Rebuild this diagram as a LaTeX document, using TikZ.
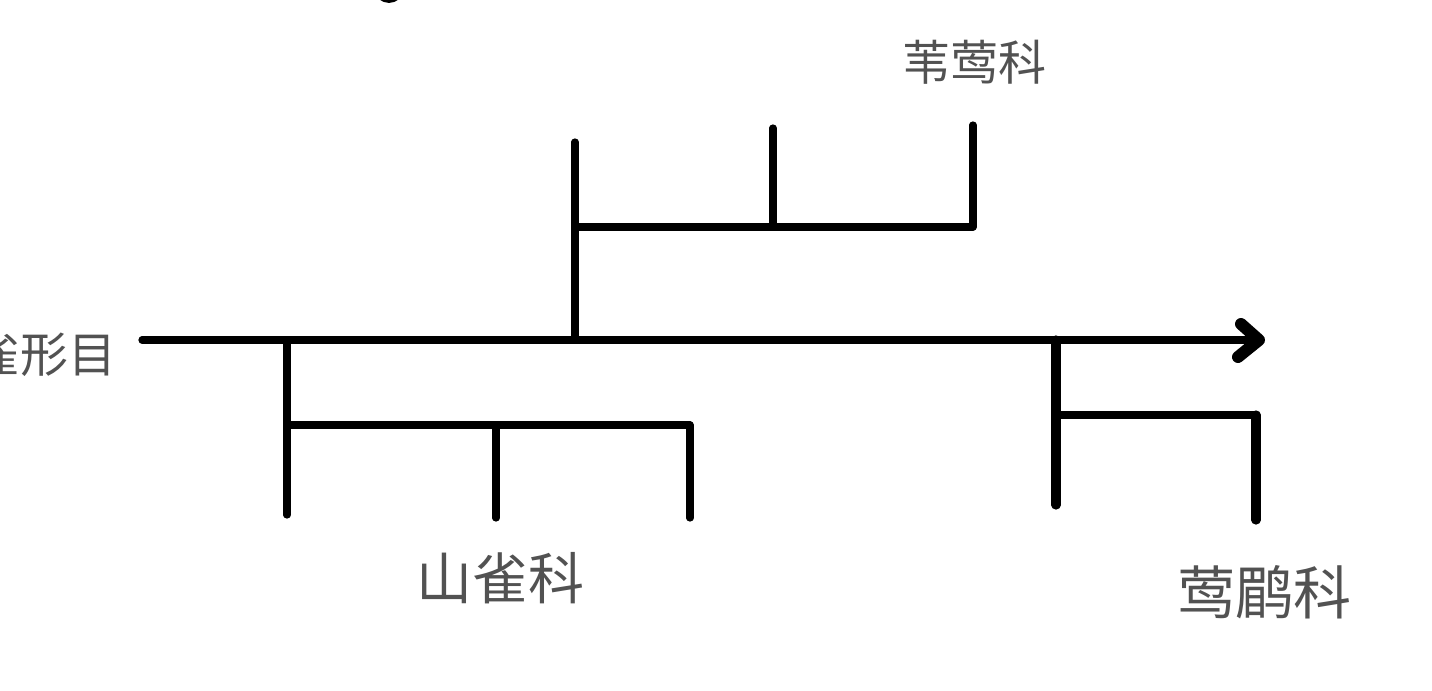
\documentclass[tikz,border=0pt]{standalone}
\usepackage{fontspec}
\newfontfamily\cjk{Noto Sans CJK SC}
\begin{document}
\begin{tikzpicture}[x=0.5pt,y=-0.5pt,
  branch/.style={line width=3.6pt,line cap=round,black},
  heavy/.style={line width=4.6pt,line cap=round,black},
  arrowstroke/.style={line width=6pt,line cap=round,line join=round,black},
  hand/.style={font=\cjk\fontsize{24}{24}\selectfont,text=black!68,inner sep=0pt}]
\useasboundingbox (0,0) rectangle (1432,691);
\begin{scope}
\clip (0,0) rectangle (1432,691);
% coordinates
\coordinate (start) at (142,340);
\coordinate (tip) at (1259,340);
\coordinate (a) at (575,340);
\coordinate (atop) at (575,142);
\coordinate (aj) at (575,227);
\coordinate (ar) at (973,227);
\coordinate (am) at (773,227);
\coordinate (amt) at (773,128);
\coordinate (art) at (973,125);
\coordinate (b) at (287,340);
\coordinate (bj) at (287,425);
\coordinate (bbot) at (287,515);
\coordinate (br) at (690,425);
\coordinate (brb) at (690,518);
\coordinate (bm) at (496,425);
\coordinate (bmb) at (496,518);
\coordinate (c) at (1056,340);
\coordinate (cj) at (1056,415);
\coordinate (cbot) at (1056,505);
\coordinate (cr) at (1256,415);
\coordinate (crb) at (1256,520);
\coordinate (h1) at (1241,324);
\coordinate (h2) at (1238,357);
% main axis
\draw[branch] (start) -- (tip);
\draw[arrowstroke] (h1) -- (tip) -- (h2);
% upper clade
\draw[branch] (a) -- (atop);
\draw[branch] (aj) -- (ar);
\draw[branch] (am) -- (amt);
\draw[branch] (ar) -- (art);
% lower left clade
\draw[branch] (b) -- (bbot);
\draw[branch] (bj) -- (br);
\draw[branch] (bm) -- (bmb);
\draw[branch] (br) -- (brb);
% lower right clade
\draw[heavy] (c) -- (cbot);
\draw[branch] (cj) -- (cr);
\draw[heavy] (cr) -- (crb);
% small stroke at top
\coordinate (s1) at (380,-3);
\coordinate (s2) at (398,-3);
\draw[line width=2.2pt,line cap=round] (s1) .. controls (386,2) and (392,2) .. (s2);
% labels
\node[hand] (order) at (45,355) {雀形目};
\node[hand] (f1) at (974,62) {苇莺科};
\node[hand,font=\cjk\fontsize{28}{28}\selectfont] (f2) at (500,578) {山雀科};
\node[hand,font=\cjk\fontsize{29}{29}\selectfont] (f3) at (1264,592) {莺鹛科};
\end{scope}
\end{tikzpicture}
\end{document}
